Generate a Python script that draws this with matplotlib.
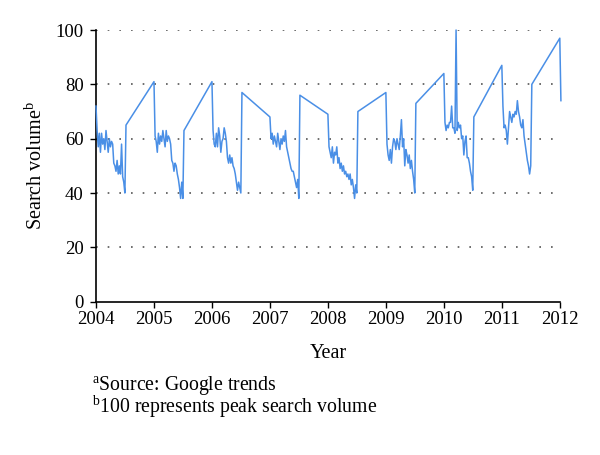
import matplotlib
matplotlib.use("Agg")
import matplotlib.pyplot as plt
import numpy as np

# Weekly search volume, roughly January to early July of each year.
# First value of each list sits on 1 January; last value is the early-July point.
vals_2004 = [72, 63, 57, 62, 55, 62, 58, 60, 56, 63, 59, 55, 60, 57, 59, 58, 51, 50, 48, 52, 47, 50, 47, 58, 46, 44, 40, 65]
vals_2005 = [81, 61, 59, 55, 62, 58, 61, 59, 63, 60, 57, 63, 59, 61, 60, 58, 52, 51, 48, 51, 50, 47, 45, 42, 38, 44, 38, 63]
vals_2006 = [81, 63, 58, 57, 62, 57, 64, 61, 55, 59, 60, 64, 62, 59, 53, 51, 54, 51, 53, 50, 49, 47, 44, 41, 44, 42, 40, 77]
vals_2007 = [68, 60, 62, 58, 61, 59, 57, 62, 59, 56, 60, 58, 61, 59, 63, 57, 55, 53, 51, 49, 48, 48, 46, 44, 42, 45, 38, 76]
vals_2008 = [69, 57, 55, 53, 57, 51, 55, 54, 57, 51, 53, 49, 51, 48, 50, 47, 48, 46, 47, 45, 47, 43, 45, 42, 38, 43, 40, 70]
vals_2009 = [77, 58, 54, 52, 56, 51, 57, 60, 59, 56, 60, 58, 56, 61, 67, 57, 60, 50, 56, 54, 51, 54, 49, 52, 48, 45, 40, 73]
vals_2010 = [84, 66, 63, 65, 64, 66, 66, 72, 64, 64, 62, 100, 63, 66, 64, 65, 60, 61, 54, 59, 61, 53, 53, 51, 48, 46, 41, 68]
vals_2011 = [87, 72, 64, 65, 63, 58, 64, 70, 68, 66, 69, 68, 70, 69, 74, 70, 68, 65, 64, 67, 61, 58, 55, 52, 50, 47, 50, 80]
vals_2012 = [97, 74]

segments = {2004: vals_2004, 2005: vals_2005, 2006: vals_2006, 2007: vals_2007,
            2008: vals_2008, 2009: vals_2009, 2010: vals_2010, 2011: vals_2011,
            2012: vals_2012}

x_ticks = [2004, 2005, 2006, 2007, 2008, 2009, 2010, 2011, 2012]
y_ticks = [0, 20, 40, 60, 80, 100]

xs, ys = [], []
for yr, vals in segments.items():
    for i, v in enumerate(vals):
        xs.append(yr + i * 7 / 365.25)
        ys.append(v)

plt.rcParams['font.family'] = ['Liberation Serif', 'DejaVu Serif']
plt.rcParams['mathtext.fontset'] = 'custom'
plt.rcParams['mathtext.rm'] = 'Liberation Serif'
plt.rcParams['mathtext.it'] = 'Liberation Serif:italic'

fig = plt.figure(figsize=(6, 4.55), dpi=100)
ax = fig.add_axes([0.16, 0.337, 0.773, 0.597])

for yv in y_ticks[1:]:
    ax.axhline(yv, color='#555555', lw=1.2, linestyle=(0, (1, 6)), zorder=1)

ax.plot(xs, ys, color='#4a8fe6', lw=1.1, zorder=3, clip_on=False)

ax.set_xlim(2004, 2012)
ax.set_ylim(0, 100)
ax.set_xticks(x_ticks)
ax.set_yticks(y_ticks)
ax.tick_params(direction='out', length=4, width=1, labelsize=13.5)
ax.tick_params(axis='x', pad=3)
ax.tick_params(axis='y', pad=5)
for s in ['top', 'right']:
    ax.spines[s].set_visible(False)
for s in ['left', 'bottom']:
    ax.spines[s].set_linewidth(1.2)

ax.set_xlabel('Year', fontsize=14.5, labelpad=11)
ax.set_ylabel(r'Search volume$^{\mathrm{b}}$', fontsize=14.5, labelpad=6)

footnote = (r'$^{\mathrm{a}}$Source: Google trends' + '\n' +
            r'$^{\mathrm{b}}$100 represents peak search volume')
fig.text(0.153, 0.178, footnote, fontsize=14.2, ha='left', va='top', linespacing=0.85)

fig.savefig('out.png', dpi=100)
